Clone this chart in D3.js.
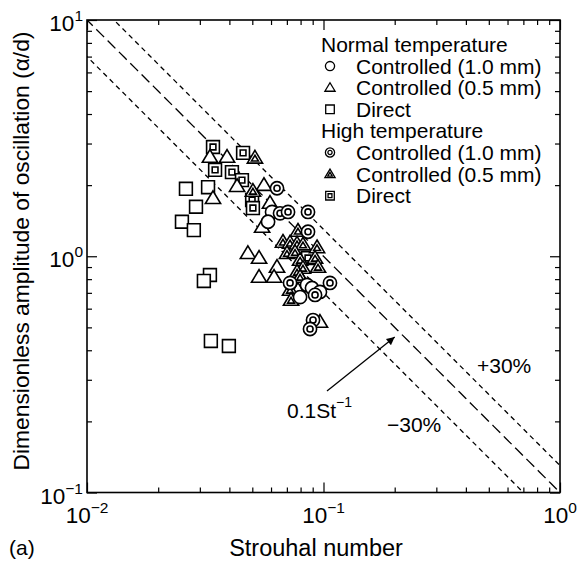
<!DOCTYPE html>
<html>
<head>
<meta charset="utf-8">
<script src="https://cdn.jsdelivr.net/npm/d3@7"></script>
<style>
  body { margin: 0; background: #fff; }
  svg { display: block; }
  text { font-family: "Liberation Sans", Arial, Helvetica, sans-serif; fill: #000; }
</style>
</head>
<body>
<svg id="chart" width="587" height="562"></svg>
<script>
// Measurements: [Strouhal number, amplitude a/d]
// Normal temperature
const normalCtrl10 = [[0.0606,1.54],[0.0583,1.40],[0.0852,0.756],[0.0894,0.734],[0.0966,0.706],[0.0796,0.672]];
const normalCtrl05 = [[0.0331,2.63],[0.0391,2.63],[0.0431,1.98],[0.0341,1.76],[0.0560,2.00],[0.0594,1.68],
                      [0.0550,1.33],[0.0479,1.03],[0.0534,0.983],[0.0636,0.901],[0.0534,0.817],[0.0618,0.817],
                      [0.0780,0.720],[0.0966,0.527]];
const normalDirect = [[0.0262,1.93],[0.0325,1.96],[0.0289,1.62],[0.0252,1.40],[0.0283,1.29],[0.0331,0.833],
                      [0.0312,0.786],[0.0334,0.438],[0.0398,0.417]];
// High temperature
const highCtrl10 = [[0.0636,1.94],[0.0655,1.52],[0.0708,1.54],[0.0860,1.54],[0.0860,1.27],[0.0722,0.771],
                    [0.1065,0.771],[0.0921,0.686],[0.0903,0.537],[0.0877,0.492]];
const highCtrl05 = [[0.0513,2.61],[0.0503,1.89],[0.0780,1.28],[0.0674,1.15],[0.0722,1.14],[0.0773,1.13],
                    [0.0819,1.12],[0.0939,1.09],[0.0701,1.03],[0.0758,1.04],[0.0796,0.964],[0.0921,0.983],
                    [0.0948,0.901],[0.0819,0.892],[0.0773,0.858],[0.0796,0.817],[0.0722,0.720],[0.0729,0.653]];
const highDirect = [[0.0341,2.90],[0.0457,2.74],[0.0348,2.32],[0.0410,2.27],[0.0452,2.10],[0.0499,1.73],
                    [0.0503,1.60],[0.0860,0.983]];

// Correlation 0.1/St with +/-30% band
const fitCoef = 0.1;
const bandFactors = [1.3, 0.7];

const xMajor = [0.01, 0.1, 1];
const yMajor = [0.1, 1, 10];
const xMajorExp = ["−2", "−1", "0"];
const yMajorExp = ["−1", "0", "1"];

const legendGroups = [
  { title: "Normal temperature", items: [
    { shape: "circle", dbl: false, label: "Controlled (1.0 mm)" },
    { shape: "triangle", dbl: false, label: "Controlled (0.5 mm)" },
    { shape: "square", dbl: false, label: "Direct" } ] },
  { title: "High temperature", items: [
    { shape: "circle", dbl: true, label: "Controlled (1.0 mm)" },
    { shape: "triangle", dbl: true, label: "Controlled (0.5 mm)" },
    { shape: "square", dbl: true, label: "Direct" } ] }
];

const svg = d3.select("#chart");
const L = 87, R = 560, T = 20, B = 492.5;

const x = d3.scaleLog().domain([0.01, 1]).range([L, R]);
const y = d3.scaleLog().domain([0.1, 10]).range([B, T]);

function minorTicks(lo, hi) {
  const out = [];
  for (let d = lo; d < hi; d *= 10) for (let k = 2; k <= 9; k++) out.push(d * k);
  return out;
}
const xMinor = minorTicks(0.01, 1);
const yMinor = minorTicks(0.1, 10);

// clip for reference lines
svg.append("defs").append("clipPath").attr("id", "plotClip")
  .append("rect").attr("x", L).attr("y", T).attr("width", R - L).attr("height", B - T);

// arrow head
svg.select("defs").append("marker")
  .attr("id", "arrowHead").attr("viewBox", "0 0 10 10")
  .attr("refX", 10).attr("refY", 5)
  .attr("markerWidth", 11).attr("markerHeight", 8)
  .attr("markerUnits", "userSpaceOnUse")
  .attr("orient", "auto")
  .append("path").attr("d", "M0,0 L10,5 L0,10 Z").attr("fill", "#000");

// reference lines
const stSamples = d3.range(0, 101).map(i => Math.pow(10, -2.2 + i * 0.024));
const line = d3.line().x(d => x(d[0])).y(d => y(d[1]));
const refG = svg.append("g").attr("clip-path", "url(#plotClip)");
refG.append("path")
  .attr("d", line(stSamples.map(s => [s, fitCoef / s])))
  .attr("fill", "none").attr("stroke", "#000").attr("stroke-width", 1.3)
  .attr("stroke-dasharray", "11,5");
bandFactors.forEach(f => {
  refG.append("path")
    .attr("d", line(stSamples.map(s => [s, f * fitCoef / s])))
    .attr("fill", "none").attr("stroke", "#000").attr("stroke-width", 1.3)
    .attr("stroke-dasharray", "5,4");
});

// markers
function shapePath(shape, s) {
  if (shape === "square") return `M${-s},${-s}H${s}V${s}H${-s}Z`;
  if (shape === "triangle") {
    const h = s * 1.1;
    return `M0,${-h * 1.05}L${h * 1.08},${h * 0.75}L${-h * 1.08},${h * 0.75}Z`;
  }
  return null;
}
function drawMarker(g, shape, dbl, size, sw) {
  const inner = shape === "circle" ? 0.46 : 0.45;
  if (shape === "circle") {
    g.append("circle").attr("r", size).attr("fill", "#fff").attr("stroke", "#000").attr("stroke-width", sw);
    if (dbl) g.append("circle").attr("r", size * inner).attr("fill", "none").attr("stroke", "#000").attr("stroke-width", sw);
  } else {
    g.append("path").attr("d", shapePath(shape, size)).attr("fill", "#fff").attr("stroke", "#000")
      .attr("stroke-width", sw).attr("stroke-linejoin", "miter");
    if (dbl) {
      const off = shape === "triangle" ? `translate(0,${size * 0.12})` : null;
      g.append("path").attr("d", shapePath(shape, size * inner)).attr("transform", off)
        .attr("fill", "none").attr("stroke", "#000").attr("stroke-width", sw);
    }
  }
}

const series = [
  { data: normalDirect, shape: "square", dbl: false },
  { data: highDirect, shape: "square", dbl: true },
  { data: normalCtrl05, shape: "triangle", dbl: false },
  { data: highCtrl05, shape: "triangle", dbl: true },
  { data: normalCtrl10, shape: "circle", dbl: false },
  { data: highCtrl10, shape: "circle", dbl: true }
];
const markG = svg.append("g");
series.forEach(sr => {
  sr.data.forEach(d => {
    const g = markG.append("g").attr("transform", `translate(${x(d[0])},${y(d[1])})`);
    drawMarker(g, sr.shape, sr.dbl, sr.shape === "circle" ? 6.6 : 6.4, 1.6);
  });
});

// axes with inward ticks on all four sides
function styleAxis(g) {
  g.select(".domain").remove();
  g.selectAll(".tick line").attr("stroke", "#000").attr("stroke-width", 1.2);
}
const axes = [
  [d3.axisBottom(x), `translate(0,${B})`, xMinor, xMajor],
  [d3.axisTop(x), `translate(0,${T})`, xMinor, xMajor],
  [d3.axisLeft(y), `translate(${L},0)`, yMinor, yMajor],
  [d3.axisRight(y), `translate(${R},0)`, yMinor, yMajor]
];
axes.forEach(([ax, tr, mn, mj]) => {
  svg.append("g").attr("transform", tr)
    .call(ax.tickValues(mn).tickSize(-5).tickSizeOuter(0).tickFormat(""))
    .call(styleAxis);
  svg.append("g").attr("transform", tr)
    .call(ax.tickValues(mj).tickSize(-10).tickSizeOuter(0).tickFormat(""))
    .call(styleAxis);
});

svg.append("rect").attr("x", L).attr("y", T).attr("width", R - L).attr("height", B - T)
  .attr("fill", "none").attr("stroke", "#000").attr("stroke-width", 1.6);

// tick labels
xMajor.forEach((v, i) => {
  const t = svg.append("text").attr("x", x(v)).attr("y", 523).attr("text-anchor", "middle")
    .attr("font-size", 22.5);
  t.append("tspan").text("10");
  t.append("tspan").attr("font-size", 15.5).attr("dy", -10).text(xMajorExp[i]);
});
yMajor.forEach((v, i) => {
  const t = svg.append("text").attr("x", 83).attr("y", y(v) + 11).attr("text-anchor", "end")
    .attr("font-size", 22.5);
  t.append("tspan").text("10");
  t.append("tspan").attr("font-size", 15.5).attr("dy", -10).text(yMajorExp[i]);
});

// axis titles
svg.append("text").attr("x", 316).attr("y", 556).attr("text-anchor", "middle")
  .attr("font-size", 23.5).text("Strouhal number");
svg.append("text").attr("transform", `translate(29,251) rotate(-90)`)
  .attr("text-anchor", "middle").attr("font-size", 22.8)
  .text("Dimensionless amplitude of oscillation (α/d)");
svg.append("text").attr("x", 9).attr("y", 555).attr("font-size", 21).text("(a)");

// legend
let row = 0;
const legendTop = 52, rowH = 21.6;
legendGroups.forEach(grp => {
  svg.append("text").attr("x", 321).attr("y", legendTop + row * rowH).attr("font-size", 21).text(grp.title);
  row++;
  grp.items.forEach(it => {
    const by = legendTop + row * rowH;
    const g = svg.append("g").attr("transform", `translate(330,${by - 7.5})`);
    drawMarker(g, it.shape, it.dbl, it.shape === "circle" ? 4.6 : 4.3, 1.3);
    svg.append("text").attr("x", 356).attr("y", by).attr("font-size", 21).text(it.label);
    row++;
  });
});

// annotations
svg.append("text").attr("x", 477).attr("y", 373).attr("font-size", 21).text("+30%");
svg.append("text").attr("x", 387).attr("y", 432).attr("font-size", 21).text("−30%");
const fitLabel = svg.append("text").attr("x", 287).attr("y", 418).attr("font-size", 21);
fitLabel.append("tspan").text("0.1St");
fitLabel.append("tspan").attr("font-size", 14).attr("dy", -11).text("−1");
svg.append("line")
  .attr("x1", 327).attr("y1", 391)
  .attr("x2", x(0.2)).attr("y2", y(0.455))
  .attr("stroke", "#000").attr("stroke-width", 1.3)
  .attr("marker-end", "url(#arrowHead)");
</script>
</body>
</html>
